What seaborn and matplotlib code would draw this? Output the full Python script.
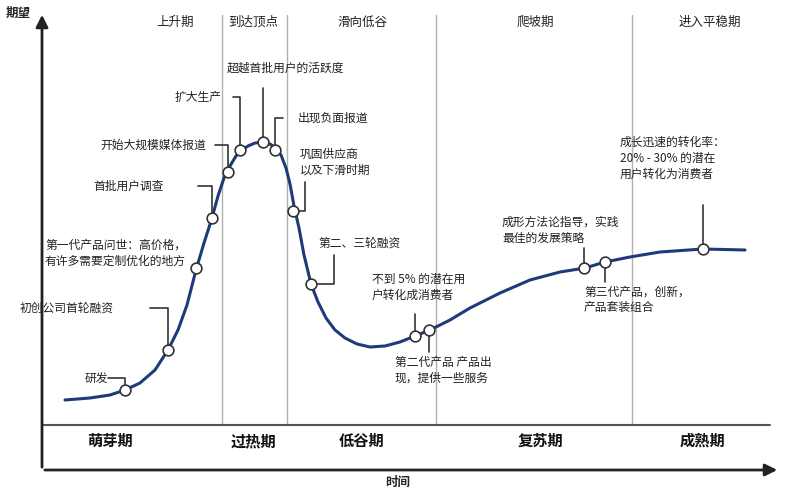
import matplotlib.pyplot as plt
import seaborn as sns

sns.set_style("white")
plt.rcParams['font.family'] = ['Noto Sans CJK SC', 'DejaVu Sans']

# 曲线 (像素坐标, 从图上读取)
curve_x = [65, 90, 110, 125, 140, 155, 168, 178, 187, 196, 204, 212, 218, 224, 230, 236, 242, 248, 255, 263,
           270, 276, 281, 286, 290, 294, 299, 304, 311, 318, 326, 335, 345, 357, 370, 385, 400, 415, 430,
           450, 470, 500, 530, 560, 585, 605, 630, 660, 703, 745]
curve_y = [400, 398, 395, 390, 383, 370, 350, 330, 305, 270, 243, 218, 196, 178, 166, 156, 150, 146, 143, 142,
           144, 148, 155, 168, 184, 206, 228, 255, 284, 302, 318, 330, 338, 344, 347, 346, 342, 336, 330,
           320, 308, 293, 280, 272, 268, 262, 257, 252, 249, 250]

# 标注点: 标记位置, 文字, 文字位置, 引线
marks = [
    ((125, 390), "研发", (85, 378), [(108, 378), (125, 378), (125, 390)]),
    ((168, 350), "初创公司首轮融资", (20, 308), [(150, 308), (168, 308), (168, 350)]),
    ((196, 268), "第一代产品问世：高价格，\n有许多需要定制优化的地方", (45, 253), []),
    ((212, 218), "首批用户调查", (93, 186), [(198, 186), (212, 186), (212, 218)]),
    ((228, 172), "开始大规模媒体报道", (100, 145), [(215, 145), (228, 145), (228, 172)]),
    ((240, 150), "扩大生产", (175, 97), [(233, 97), (240, 97), (240, 150)]),
    ((263, 142), "超越首批用户的活跃度", (227, 68), [(263, 88), (263, 142)]),
    ((275, 150), "出现负面报道", (298, 118), [(283, 118), (275, 118), (275, 150)]),
    ((293, 211), "巩固供应商\n以及下滑时期", (300, 162), [(305, 182), (305, 211), (293, 211)]),
    ((311, 284), "第二、三轮融资", (318, 243), [(334, 255), (334, 284), (311, 284)]),
    ((415, 336), "不到 5% 的潜在用\n户转化成消费者", (372, 287), [(415, 314), (415, 336)]),
    ((429, 330), "第二代产品 产品出\n现，提供一些服务", (395, 370), [(429, 352), (429, 330)]),
    ((584, 268), "成形方法论指导，实践\n最佳的发展策略", (502, 230), [(584, 248), (584, 268)]),
    ((605, 262), "第三代产品，创新，\n产品套装组合", (584, 300), [(605, 282), (605, 262)]),
    ((703, 249), "成长迅速的转化率：\n20% - 30% 的潜在\n用户转化为消费者", (620, 158), [(703, 205), (703, 249)]),
]

top_labels = ["上升期", "到达顶点", "滑向低谷", "爬坡期", "进入平稳期"]
top_x = [175, 253, 362, 535, 710]
bottom_labels = ["萌芽期", "过热期", "低谷期", "复苏期", "成熟期"]
bottom_x = [110, 254, 362, 540, 702]
divider_x = [222, 287, 436, 632]

fig = plt.figure(figsize=(7.92, 4.88), dpi=100)
ax = fig.add_axes([0, 0, 1, 1])
ax.set_xlim(0, 792)
ax.set_ylim(488, 0)
ax.axis('off')

for x in divider_x:
    ax.plot([x, x], [15, 425], color='#b0b0b0', lw=1)

ax.plot(curve_x, curve_y, color='#1f3a7a', lw=2.2, zorder=3, solid_joinstyle='round')

for (mx, my), txt, (tx, ty), leader in marks:
    if leader:
        ax.plot([p[0] for p in leader], [p[1] for p in leader], color='#333333', lw=1.2, zorder=2)
    ax.scatter([mx], [my], s=60, facecolor='white', edgecolor='#333333', lw=1.2, zorder=4)
    ax.text(tx, ty, txt, fontsize=8.5, ha='left', va='center', color='#222222', linespacing=1.3)

for lab, x in zip(top_labels, top_x):
    ax.text(x, 22, lab, fontsize=9, ha='center', va='center', color='#222222')
for lab, x in zip(bottom_labels, bottom_x):
    ax.text(x, 441, lab, fontsize=11, ha='center', va='center', color='#111111', fontweight='bold')

ax.plot([42, 770], [425, 425], color='#555555', lw=1.5)
ax.annotate('', xy=(42, 12), xytext=(42, 470), arrowprops=dict(arrowstyle='-|>', color='#222222', lw=2, mutation_scale=18))
ax.annotate('', xy=(780, 470), xytext=(42, 470), arrowprops=dict(arrowstyle='-|>', color='#222222', lw=2, mutation_scale=18))
ax.text(18, 13, "期望", fontsize=9, ha='center', va='center', fontweight='bold')
ax.text(398, 482, "时间", fontsize=9, ha='center', va='center', fontweight='bold')

fig.savefig('out.png', dpi=100)
